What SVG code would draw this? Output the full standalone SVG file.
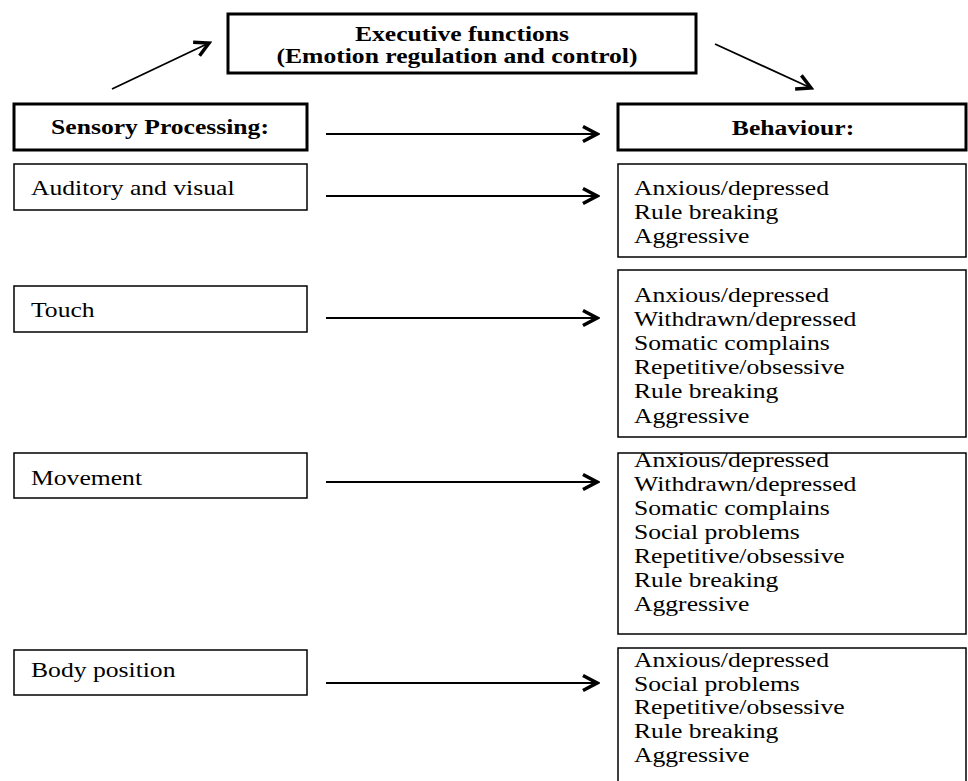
<svg xmlns="http://www.w3.org/2000/svg" width="968" height="781" viewBox="0 0 968 781">
<style>
  .bx{fill:#fff;stroke:#000;stroke-width:1.5}
  .bxh{fill:#fff;stroke:#000;stroke-width:3}
  .t{font-family:"Liberation Serif","Times New Roman",serif;font-size:22px;fill:#000}
  .tb{font-family:"Liberation Serif","Times New Roman",serif;font-size:21px;font-weight:bold;fill:#000}
  .c{stroke:#000;stroke-width:1.8;fill:none;marker-end:url(#ah)}
</style>
<defs>
  <marker id="ah" markerUnits="userSpaceOnUse" viewBox="0 0 20 20" refX="17" refY="10" markerWidth="20" markerHeight="20" orient="auto">
    <path d="M3,2.5 L17,10 L3,17.5" fill="none" stroke="#000" stroke-width="3.5" stroke-linejoin="miter"/>
  </marker>
</defs>
<rect width="968" height="781" fill="#fff"/>
<g id="connectors">
  <line class="c" x1="112" y1="89" x2="209" y2="43"/>
  <line class="c" x1="715" y1="44" x2="811" y2="88"/>
  <line class="c" x1="326" y1="134" x2="597" y2="134"/>
  <line class="c" x1="326" y1="196" x2="597" y2="196"/>
  <line class="c" x1="326" y1="318" x2="597" y2="318"/>
  <line class="c" x1="326" y1="482" x2="597" y2="482"/>
  <line class="c" x1="326" y1="683" x2="597" y2="683"/>
</g>
<g id="exec">
  <rect class="bxh" x="228" y="14" width="468" height="59"/>
  <text class="tb" text-anchor="middle" transform="translate(462,41) scale(1.22,1)">Executive functions</text>
  <text class="tb" text-anchor="middle" transform="translate(457,63) scale(1.22,1)">(Emotion regulation and control)</text>
</g>
<g id="sensory">
  <rect class="bxh" x="14" y="104" width="293" height="46"/>
  <text class="tb" text-anchor="middle" transform="translate(160,134) scale(1.22,1)">Sensory Processing:</text>
</g>
<g id="auditory">
  <rect class="bx" x="14" y="164" width="293" height="46"/>
  <text class="t" transform="translate(31,195) scale(1.165,1)">Auditory and visual</text>
</g>
<g id="touch">
  <rect class="bx" x="14" y="286" width="293" height="46"/>
  <text class="t" transform="translate(31,317) scale(1.165,1)">Touch</text>
</g>
<g id="movement">
  <rect class="bx" x="14" y="453" width="293" height="45"/>
  <text class="t" transform="translate(31,485) scale(1.165,1)">Movement</text>
</g>
<g id="body">
  <rect class="bx" x="14" y="650" width="293" height="45"/>
  <text class="t" transform="translate(31,677) scale(1.165,1)">Body position</text>
</g>
<g id="behaviour">
  <rect class="bxh" x="618" y="104" width="348" height="46"/>
  <text class="tb" text-anchor="middle" transform="translate(793,135) scale(1.22,1)">Behaviour:</text>
</g>
<g id="beh1">
  <rect class="bx" x="618" y="164" width="348" height="93"/>
  <g transform="translate(634,0) scale(1.165,1)">
    <text class="t" x="0" y="195">Anxious/depressed</text>
    <text class="t" x="0" y="219">Rule breaking</text>
    <text class="t" x="0" y="243">Aggressive</text>
  </g>
</g>
<g id="beh2">
  <rect class="bx" x="618" y="270" width="348" height="167"/>
  <g transform="translate(634,0) scale(1.165,1)">
    <text class="t" x="0" y="302">Anxious/depressed</text>
    <text class="t" x="0" y="326">Withdrawn/depressed</text>
    <text class="t" x="0" y="350">Somatic complains</text>
    <text class="t" x="0" y="374">Repetitive/obsessive</text>
    <text class="t" x="0" y="398">Rule breaking</text>
    <text class="t" x="0" y="423">Aggressive</text>
  </g>
</g>
<g id="beh3">
  <rect class="bx" x="618" y="453" width="348" height="181"/>
  <g transform="translate(634,0) scale(1.165,1)">
    <text class="t" x="0" y="467">Anxious/depressed</text>
    <text class="t" x="0" y="491">Withdrawn/depressed</text>
    <text class="t" x="0" y="515">Somatic complains</text>
    <text class="t" x="0" y="539">Social problems</text>
    <text class="t" x="0" y="563">Repetitive/obsessive</text>
    <text class="t" x="0" y="587">Rule breaking</text>
    <text class="t" x="0" y="611">Aggressive</text>
  </g>
</g>
<g id="beh4">
  <rect class="bx" x="618" y="648" width="348" height="160"/>
  <g transform="translate(634,0) scale(1.165,1)">
    <text class="t" x="0" y="667">Anxious/depressed</text>
    <text class="t" x="0" y="691">Social problems</text>
    <text class="t" x="0" y="714">Repetitive/obsessive</text>
    <text class="t" x="0" y="738">Rule breaking</text>
    <text class="t" x="0" y="762">Aggressive</text>
  </g>
</g>
</svg>
